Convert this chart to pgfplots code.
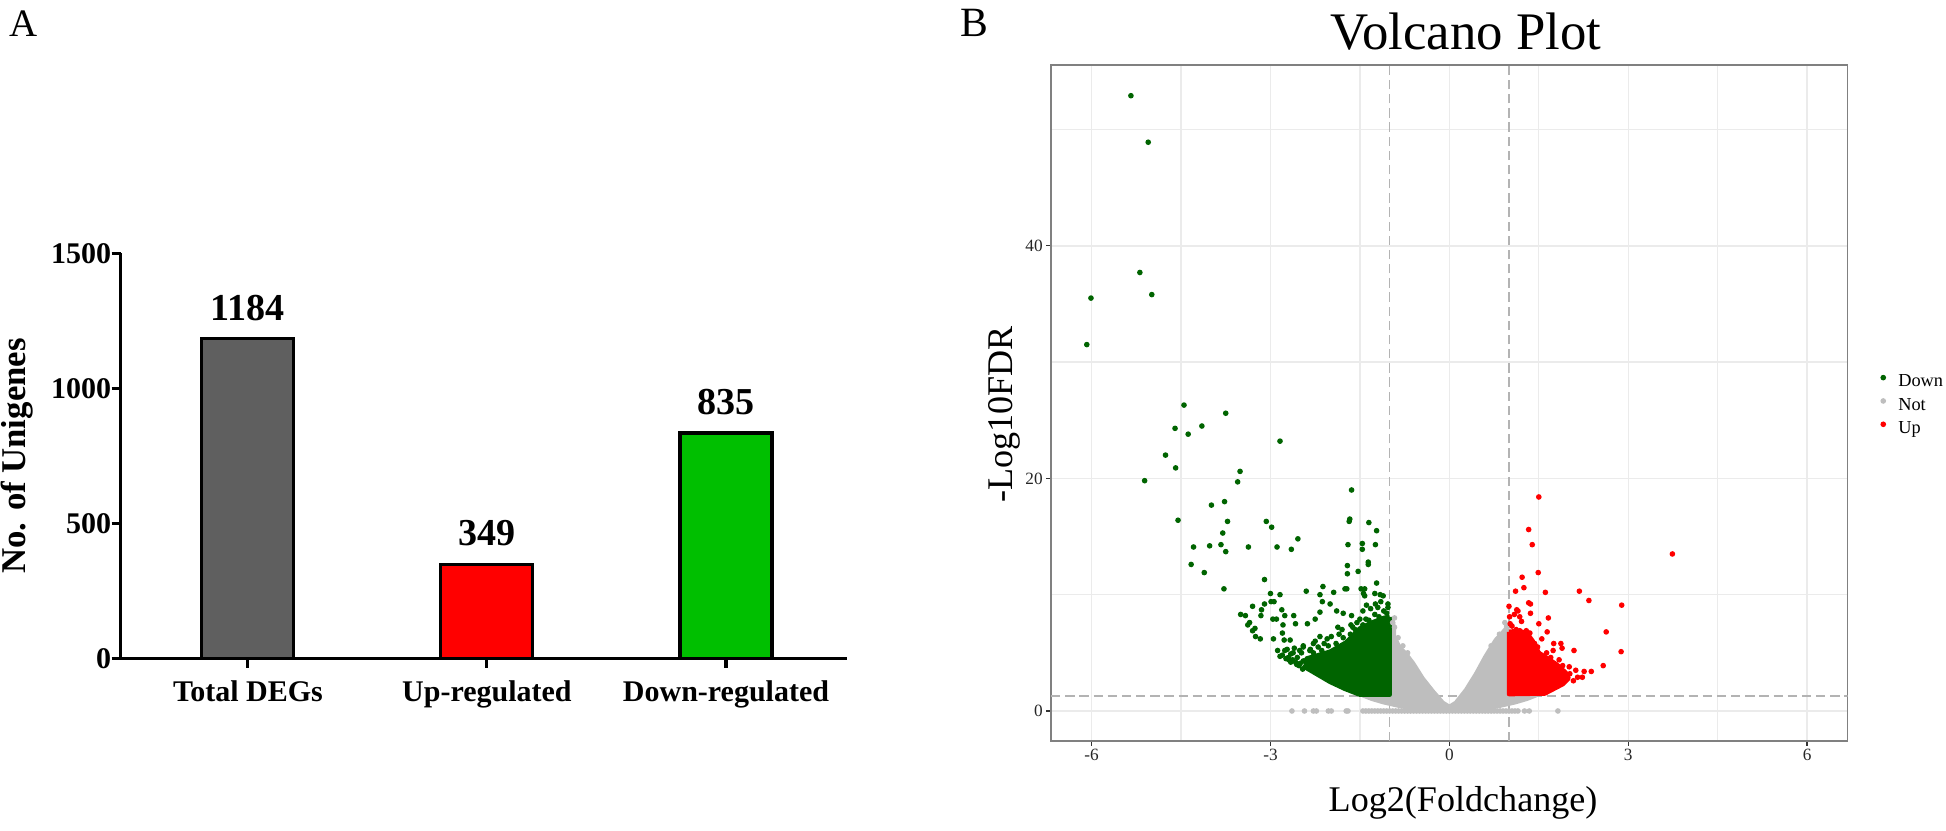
\documentclass[border=0pt]{standalone}
\usepackage{fontspec}
\setmainfont{Liberation Serif}
\usepackage{pgfplots}
\pgfplotsset{compat=1.18}
\definecolor{dgreen}{HTML}{006400}
\definecolor{vgrey}{HTML}{BEBEBE}
\definecolor{barG}{HTML}{5F5F5F}
\definecolor{barGreen}{HTML}{00BF00}
\definecolor{gridc}{HTML}{EBEBEB}
\definecolor{dashc}{HTML}{B3B3B3}
\pgfplotsset{/pgf/number format/1000 sep={}}
\begin{document}
\begin{tikzpicture}
\path[use as bounding box] (0,0) rectangle (700.56pt,299.16pt);
% ---------------- Panel A ----------------
\node[font=\fontsize{14}{16}\selectfont] at (8.64pt,290.5pt) {A};
\node[rotate=90,font=\fontsize{12.5}{14}\selectfont\bfseries] at (6.12pt,135pt) {No. of Unigenes};
\begin{axis}[
  at={(43.38pt,62.03pt)}, anchor=south west,
  scale only axis, width=261.43pt, height=145.94pt,
  xmin=-0.533, xmax=2.505, ymin=0, ymax=1500,
  axis x line*=bottom, axis y line*=left,
  axis line style={line width=1.1pt, black},
  xtick={0,1,2}, xticklabels={Total DEGs, Up-regulated, Down-regulated},
  ytick={0,500,1000,1500},
  tick align=outside, major tick length=3.2pt,
  tick style={line width=1.1pt, black},
  ticklabel style={font=\fontsize{10.8}{12}\selectfont\bfseries, inner sep=1pt},
  xticklabel style={yshift=-3.6pt},
  yticklabel style={xshift=1pt},
  /pgf/number format/assume math mode=true,
  ybar, bar width=0.385, bar shift=0pt,
  nodes near coords,
  nodes near coords style={font=\fontsize{13.7}{15}\selectfont\bfseries, inner sep=0pt, yshift=6pt, anchor=south},
]
\addplot[fill=barG, draw=black, line width=1.1pt] coordinates {(0,1184)};
\addplot[fill=red, draw=black, line width=1.1pt] coordinates {(1,349)};
\addplot[fill=barGreen, draw=black, line width=1.1pt] coordinates {(2,835)};
\end{axis}
% ---------------- Panel B ----------------
\node[font=\fontsize{15}{17}\selectfont] at (350.64pt,291pt) {B};
\node[anchor=base,font=\fontsize{19}{22}\selectfont] at (527.76pt,281.5pt) {Volcano Plot};
\node[anchor=base,font=\fontsize{13}{15}\selectfont] at (526.7pt,6.84pt) {Log2(Foldchange)};
\node[rotate=90,font=\fontsize{13}{15}\selectfont] at (361.44pt,149.94pt) {-Log10FDR};
\begin{axis}[
  at={(378.36pt,32.4pt)}, anchor=south west,
  scale only axis, width=286.81pt, height=243.36pt,
  xmin=-6.68, xmax=6.68, ymin=-2.58, ymax=55.54,
  xtick={-6,-3,0,3,6}, ytick={0,20,40},
  minor xtick={-4.5,-1.5,1.5,4.5}, minor ytick={10,30,50},
  grid=both,
  major grid style={gridc, line width=0.55pt},
  minor grid style={gridc, line width=0.45pt},
  axis line style={draw=black!50, line width=0.55pt},
  tick align=outside, major tick length=1.8pt, minor tick length=0pt,
  tick style={black!80, line width=0.5pt},
  xtick pos=lower, ytick pos=left,
  ticklabel style={font=\fontsize{6.2}{7}\selectfont, text=black!85, inner sep=1pt},
  /pgf/number format/assume math mode=true,
  legend style={at={(1.0387,0.4956)}, anchor=west, draw=none, fill=none,
    font=\fontsize{6.6}{7.5}\selectfont, inner sep=0pt, column sep=2.9pt, row sep=0.3pt,
    nodes={inner sep=1pt, text height=4.6pt, text depth=1.5pt}},
  legend cell align=left,
  legend image code/.code={\path[draw=none,fill=none] (0pt,0pt) rectangle (3pt,0pt); \path[#1,draw=none] plot coordinates {(1.5pt,1.8pt)};},
]
% threshold lines
\addplot[dashc, line width=0.5pt, dash pattern=on 3.4pt off 1.7pt, forget plot] coordinates {(-1,-2.58) (-1,55.54)};
\addplot[dashc, line width=0.5pt, dash pattern=on 3.4pt off 1.7pt, forget plot] coordinates {(1,-2.58) (1,55.54)};
\addplot[dashc, line width=0.5pt, dash pattern=on 3.4pt off 1.7pt, forget plot] coordinates {(-6.68,1.301) (6.68,1.301)};
% dense cores of the point clouds
\addplot[fill=vgrey, draw=vgrey, line width=1.6pt, line join=round, forget plot] coordinates {
(-0.97,8.0) (-0.93,7.2) (-0.93,6.4) (-0.84,5.5) (-0.73,4.9) (-0.61,4.1) (-0.45,2.8) (-0.28,1.7) (-0.11,0.7) (0,0.35)
(0.11,0.7) (0.28,1.8) (0.45,3.2) (0.61,4.7) (0.78,6.1) (0.89,6.7) (0.97,7.2) (0.99,6.5) (0.99,1.35) (1.45,1.35)
(1.3,1.05) (1.1,0.75) (0.8,0.4) (0.5,0.17) (0.2,0.05) (0,0.02) (-0.2,0.05) (-0.5,0.17) (-0.8,0.4) (-1.1,0.75)
(-1.3,1.05) (-1.45,1.35) (-0.99,1.35) (-0.99,7.0) (-0.97,8.0)};
\addplot[fill=dgreen, draw=dgreen, line width=1.6pt, line join=round, forget plot] coordinates {
(-1.0,8.1) (-1.1,8.0) (-1.3,7.6) (-1.5,7.1) (-1.73,5.9) (-2.0,5.1) (-2.2,4.8) (-2.4,4.5) (-2.4,3.7) (-2.2,3.1)
(-2.0,2.5) (-1.75,1.9) (-1.5,1.4) (-1.0,1.4) (-1.0,8.1)};
\addplot[fill=red, draw=red, line width=1.6pt, line join=round, forget plot] coordinates {
(1.0,6.8) (1.15,6.9) (1.3,6.7) (1.4,6.0) (1.5,5.0) (1.65,4.5) (1.8,4.0) (1.95,3.3) (2.0,2.8) (1.9,2.3)
(1.75,1.9) (1.6,1.5) (1.0,1.45) (1.0,6.8)};
% Down
\addplot[only marks, mark=*, mark size=0.8pt, dgreen, mark options={draw=dgreen, fill=dgreen}] table {
x y
-5.34 52.9
-5.05 48.9
-5.19 37.7
-4.99 35.8
-6.01 35.5
-6.08 31.5
-4.45 26.3
-3.75 25.6
-4.60 24.3
-4.15 24.5
-4.38 23.8
-2.84 23.2
-4.76 22.0
-4.59 20.9
-3.51 20.6
-3.55 19.7
-5.11 19.8
-1.64 19.0
-3.77 18.0
-3.99 17.7
-4.55 16.4
-3.72 16.3
-3.07 16.3
-2.98 15.8
-1.68 16.3
-1.67 16.5
-1.35 16.2
-1.22 15.5
-2.54 14.8
-3.80 15.3
-4.29 14.1
-4.02 14.2
-3.83 14.3
-3.75 13.7
-3.37 14.1
-2.89 14.1
-2.65 13.9
-1.70 14.3
-1.46 14.4
-1.46 13.9
-1.24 14.3
-1.36 12.8
-1.36 12.6
-1.71 12.5
-1.71 11.8
-1.53 12.0
-4.33 12.6
-4.11 11.9
-3.10 11.3
-3.78 10.5
-2.84 10.0
-2.40 10.3
-2.12 10.7
-2.17 10.0
-1.94 10.2
-1.75 10.5
-1.72 10.5
-1.48 10.5
-1.42 10.5
-1.22 11.0
-1.44 10.1
-1.42 9.9
-1.25 10.1
-1.16 10.0
-1.11 9.9
-3.30 9.0
-3.10 9.2
-2.99 9.4
-2.94 9.4
-3.15 8.7
-2.81 8.7
-3.16 8.2
-2.96 7.9
-2.90 7.9
-2.76 8.2
-2.61 8.2
-2.79 7.4
-2.58 7.5
-2.38 7.5
-2.25 7.9
-2.13 9.4
-2.00 9.2
-2.17 8.5
-1.89 8.6
-1.78 8.4
-1.64 8.2
-1.50 7.9
-1.65 7.4
-1.39 9.1
-1.24 9.2
-1.03 9.2
-3.26 7.1
-3.25 6.4
-3.17 6.2
-2.95 6.2
-2.80 6.7
-2.77 6.1
-2.67 6.1
-2.17 6.4
-1.98 6.4
-1.87 7.2
-2.84 4.7
-2.76 5.2
-2.69 4.4
-2.62 5.0
-2.51 5.2
-2.45 5.5
-2.34 5.2
-2.37 4.5
-2.26 4.4
-3.50 8.3
-3.42 8.2
-3.38 7.4
-3.35 7.6
-3.30 6.9
-3.00 10.1
-2.35 4.0
-2.42 3.8
-2.45 4.3
-2.48 5.0
-2.50 4.1
-2.55 4.6
-2.58 4.2
-2.60 5.4
-2.63 4.4
-2.66 4.9
-2.70 4.6
-2.72 5.3
-2.80 4.8
-2.88 5.2
-2.45 5.6
-2.33 5.3
-2.28 5.8
-2.20 5.5
-2.10 5.8
-2.05 6.2
-2.25 6.0
-1.85 6.6
-1.80 7.0
-1.62 7.2
-1.55 7.6
-1.40 7.9
-1.25 8.3
-1.10 8.6
-1.03 8.9
-1.15 9.4
-1.32 8.8
-1.45 8.6
-1.20 8.9
-1.05 8.4
-1.18 8.1
-1.35 7.8
-1.45 7.4
-1.58 7.0
-1.66 6.6
-1.78 6.3
-1.90 5.8
-2.03 5.6
-2.14 5.2
-2.28 5.0
-2.52 3.9
-2.46 3.6
-2.56 4.0
-2.66 4.2
-2.74 4.5
};
\addlegendentry{Down}
% Not
\addplot[only marks, mark=*, mark size=0.8pt, vgrey, mark options={draw=vgrey, fill=vgrey}] table {
x y
-2.64 0
-2.43 0
-2.28 0
-2.23 0
-2.03 0
-1.98 0
-1.73 0
-1.70 0
-1.45 0
-1.40 0
-1.35 0
-1.30 0
-1.25 0
-1.20 0
-1.15 0
-1.10 0
-1.05 0
-1.00 0
-0.95 0
-0.90 0
-0.85 0
-0.80 0
-0.75 0
-0.70 0
-0.65 0
-0.60 0
-0.55 0
-0.50 0
-0.45 0
-0.40 0
-0.35 0
-0.30 0
-0.25 0
-0.20 0
-0.15 0
-0.10 0
-0.05 0
0.00 0
0.05 0
0.10 0
0.15 0
0.20 0
0.25 0
0.30 0
0.35 0
0.40 0
0.45 0
0.50 0
0.55 0
0.60 0
0.65 0
0.70 0
0.75 0
0.80 0
0.85 0
0.90 0
0.95 0
1.00 0
1.05 0
1.10 0
1.15 0
1.26 0
1.34 0
1.82 0
-0.92 8.0
-0.92 7.2
-0.95 7.6
0.96 7.3
0.93 7.6
-0.86 6.3
-0.78 5.6
-0.70 5.0
0.70 5.6
0.84 6.6
};
\addlegendentry{Not}
% Up
\addplot[only marks, mark=*, mark size=0.8pt, red, mark options={draw=red, fill=red}] table {
x y
1.50 18.4
1.33 15.6
1.39 14.3
3.74 13.5
1.49 11.9
1.22 11.5
1.25 10.6
1.11 10.3
1.61 10.2
2.18 10.3
2.34 9.5
2.89 9.1
1.00 9.0
1.33 9.3
1.36 9.2
1.13 8.7
1.15 8.6
1.09 8.3
1.18 8.1
1.21 7.7
1.36 8.4
1.66 8.0
1.50 7.5
1.01 8.1
1.02 7.5
2.63 6.8
1.64 6.8
2.88 5.1
2.09 5.2
2.58 3.9
2.38 3.4
2.26 3.4
2.23 2.9
2.08 2.6
1.89 5.4
1.75 5.8
1.87 5.8
1.74 5.2
1.63 5.0
1.70 4.6
1.84 4.4
1.90 3.9
2.01 3.8
2.02 3.2
1.43 5.8
1.40 5.2
1.12 7.0
1.18 6.9
1.29 6.9
1.35 6.7
1.06 6.2
1.23 6.1
1.05 7.3
1.55 6.2
1.48 5.5
1.58 4.4
1.95 2.8
2.12 3.5
1.85 3.1
1.75 2.6
2.15 2.9
};
\addlegendentry{Up}
\end{axis}
\end{tikzpicture}
\end{document}
